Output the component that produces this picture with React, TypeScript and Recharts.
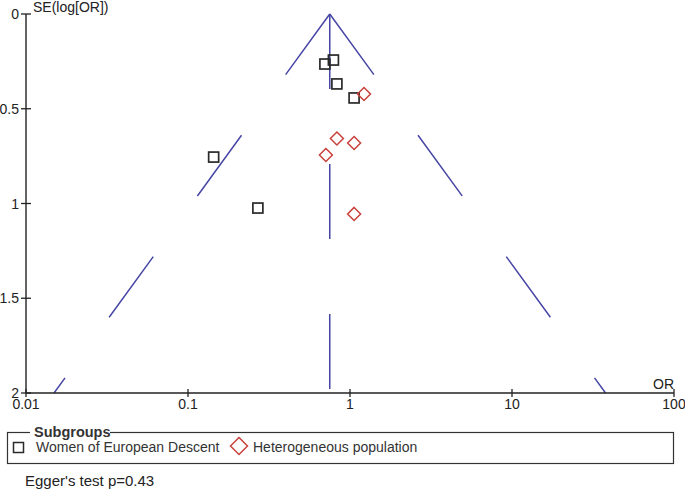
import { ScatterChart, Scatter, XAxis, YAxis, ReferenceLine } from 'recharts';

// values
const europeanOR = [0.7, 0.79, 0.83, 1.06, 0.144, 0.27];
const europeanSE = [0.264, 0.243, 0.369, 0.443, 0.755, 1.024];
const heteroOR = [1.22, 0.83, 1.06, 0.71, 1.06];
const heteroSE = [0.422, 0.657, 0.681, 0.744, 1.055];

const subgroupNames = ['Women of European Descent', 'Heterogeneous population'];

// funnel: pooled OR and the 95% limits at the bottom of the plot
const pooledOR = 0.75;
const funnelLowerOR = 0.0149;
const funnelUpperOR = 37.8;
const funnelTopSE = 0;
const funnelBottomSE = 2;

const xTicks = [0.01, 0.1, 1, 10, 100];
const yTicks = [0, 0.5, 1, 1.5, 2];

const FONT = 'Arial, "Liberation Sans", sans-serif';
const TEXT = '#222';
const FUNNEL = '#4646a5';
const RED = '#c8413b';
const DASH = '75 75';

const europeanData = europeanOR.map((or, i) => ({ or, se: europeanSE[i] }));
const heteroData = heteroOR.map((or, i) => ({ or, se: heteroSE[i] }));

const SquareShape = (props: any) => {
  const { cx, cy } = props;
  return <rect x={cx - 5} y={cy - 5} width={10} height={10} fill="none" stroke="#2a2a2a" strokeWidth={1.7} />;
};

const DiamondShape = (props: any) => {
  const { cx, cy } = props;
  const r = 6.5;
  return (
    <polygon
      points={`${cx},${cy - r} ${cx + r},${cy} ${cx},${cy + r} ${cx - r},${cy}`}
      fill="none"
      stroke={RED}
      strokeWidth={1.5}
    />
  );
};

// recharts draws the outer half of each tick, these add the inner half
const XTick = (props: any) => {
  const { x, y, payload } = props;
  const axisY = y - 6;
  return (
    <g>
      <line x1={x} x2={x} y1={axisY - 4} y2={axisY} stroke={TEXT} strokeWidth={1.3} />
      <text x={x} y={y + 10} textAnchor="middle" fontSize={14} fontFamily={FONT} fill={TEXT}>
        {payload.value}
      </text>
    </g>
  );
};

const YTick = (props: any) => {
  const { x, y, payload } = props;
  const axisX = x + 7;
  return (
    <g>
      <line x1={axisX} x2={axisX + 5} y1={y} y2={y} stroke={TEXT} strokeWidth={1.3} />
      <text x={x} y={y + 5} textAnchor="end" fontSize={14} fontFamily={FONT} fill={TEXT}>
        {payload.value}
      </text>
    </g>
  );
};

const XLabel = (props: any) => {
  const vb = props.viewBox;
  return (
    <text x={vb.x + vb.width} y={vb.y - 4} textAnchor="end" fontSize={14} fontFamily={FONT} fill={TEXT}>
      OR
    </text>
  );
};

const YLabel = (props: any) => {
  const vb = props.viewBox;
  return (
    <text x={vb.x + vb.width + 7} y={vb.y - 2} textAnchor="start" fontSize={14} fontFamily={FONT} fill={TEXT}>
      SE(log[OR])
    </text>
  );
};

function Legend() {
  return (
    <svg width={685} height={73} style={{ position: 'absolute', left: 0, top: 420 }}>
      <rect x={7.5} y={12.5} width={666} height={31} fill="none" stroke="#333" strokeWidth={1.2} />
      <rect x={30} y={4} width={80} height={16} fill="#fff" />
      <text x={34} y={17} fontSize={14.5} fontWeight="bold" fontFamily={FONT} fill="#333">
        Subgroups
      </text>
      <rect x={13.5} y={22.5} width={10} height={10} fill="none" stroke="#2a2a2a" strokeWidth={1.5} />
      <text x={36} y={32} fontSize={14} fontFamily={FONT} fill="#333">
        {subgroupNames[0]}
      </text>
      <polygon points="239,17.5 247.5,26 239,34.5 230.5,26" fill="none" stroke={RED} strokeWidth={1.5} />
      <text x={253} y={32} fontSize={14} fontFamily={FONT} fill="#333">
        {subgroupNames[1]}
      </text>
      <text x={25} y={66} fontSize={15} fontFamily={FONT} fill="#222">
        Egger's test p=0.43
      </text>
    </svg>
  );
}

export default function App() {
  return (
    <div style={{ position: 'absolute', left: 0, top: 0, width: 685, height: 493, background: '#fff' }}>
      <ScatterChart width={685} height={420} margin={{ top: 14, right: 11, bottom: 0, left: 0 }}>
        <XAxis
          type="number"
          dataKey="or"
          scale="log"
          domain={[0.01, 100]}
          ticks={xTicks}
          allowDataOverflow
          height={27}
          tickSize={4}
          tickMargin={2}
          tickLine={{ stroke: TEXT, strokeWidth: 1.3 }}
          axisLine={{ stroke: TEXT, strokeWidth: 1.4 }}
          tick={XTick}
          interval={0}
          label={XLabel}
        />
        <YAxis
          type="number"
          dataKey="se"
          domain={[0, 2]}
          reversed
          ticks={yTicks}
          allowDataOverflow
          width={26}
          tickSize={5}
          tickMargin={2}
          tickLine={{ stroke: TEXT, strokeWidth: 1.3 }}
          axisLine={{ stroke: TEXT, strokeWidth: 1.4 }}
          tick={YTick}
          interval={0}
          label={YLabel}
        />
        <ReferenceLine
          segment={[{ x: pooledOR, y: funnelTopSE }, { x: funnelLowerOR, y: funnelBottomSE }]}
          stroke={FUNNEL}
          strokeWidth={1.5}
          strokeDasharray={DASH}
          ifOverflow="visible"
        />
        <ReferenceLine
          segment={[{ x: pooledOR, y: funnelTopSE }, { x: funnelUpperOR, y: funnelBottomSE }]}
          stroke={FUNNEL}
          strokeWidth={1.5}
          strokeDasharray={DASH}
          ifOverflow="visible"
        />
        <ReferenceLine
          segment={[{ x: pooledOR, y: funnelTopSE }, { x: pooledOR, y: funnelBottomSE }]}
          stroke={FUNNEL}
          strokeWidth={1.5}
          strokeDasharray={DASH}
          ifOverflow="visible"
        />
        <Scatter name={subgroupNames[0]} data={europeanData} shape={SquareShape} isAnimationActive={false} />
        <Scatter name={subgroupNames[1]} data={heteroData} shape={DiamondShape} isAnimationActive={false} />
      </ScatterChart>
      <Legend />
    </div>
  );
}
